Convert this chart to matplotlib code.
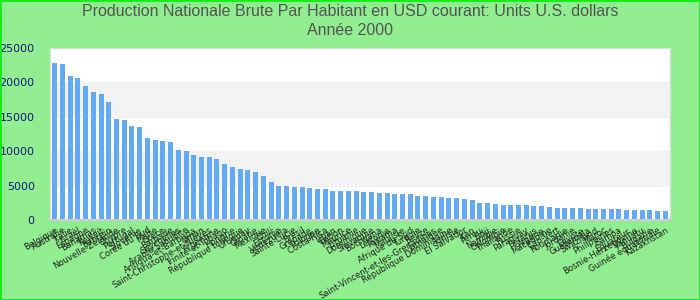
import matplotlib
matplotlib.use('Agg')
import matplotlib.pyplot as plt
from matplotlib.patches import Rectangle

pays = ['Belgique', 'Australie', 'Italie', 'Israël', 'Espagne', 'Bahamas', 'Koweït', 'Bahreïn',
        'Nouvelle-Zélande', 'Chypre', 'Portugal', 'Slovénie', 'Corée du Sud', 'Malte', 'Grèce',
        'Barbade', 'Seychelles', 'Arabie Saoudite', 'Antigua-et-Barbuda', 'Oman',
        'Saint-Christophe-et-Niévès', 'Argentine', 'Trinité-et-Tobago', 'Hongrie',
        'République tchèque', 'Uruguay', 'Croatie', 'Mexique', 'Chili', 'Estonie', 'Venezuela',
        'Sainte-Lucie', 'Brésil', 'Grenade', 'Pologne', 'Costa Rica', 'Liban', 'Gabon', 'Maurice',
        'Lituanie', 'Dominique', 'Slovaquie', 'Botswana', 'Lettonie', 'Panama', 'Malaisie',
        'Afrique du Sud', 'Turquie', 'Belize', 'Saint-Vincent-et-les-Grenadines', 'Jamaïque',
        'République Dominicaine', 'Tunisie', 'El Salvador', 'Iran', 'Pérou', 'Fidji', 'Namibie',
        'Colombie', 'Thaïlande', 'Russie', 'Paraguay', 'Belarus', 'Algérie', 'Macédoine',
        'Cap-Vert', 'Roumanie', 'Jordanie', 'Égypte', 'Guatemala', 'Swaziland', 'Maroc',
        'Philippines', 'Samoa', 'Équateur', 'Bosnie-Herzégovine', 'Vanuatu', 'Bulgarie',
        'Guinée équatoriale', 'Kazakhstan']

pnb = [22770, 22630, 20880, 20580, 19420, 18540, 18250, 17080, 14740, 14600,
       13720, 13580, 11970, 11680, 11530, 11390, 10220, 10070, 9490, 9200,
       9200, 8900, 8180, 7740, 7450, 7300, 7010, 6420, 5550, 4960,
       4960, 4820, 4820, 4670, 4530, 4530, 4230, 4230, 4230, 4230,
       4090, 4090, 3940, 3940, 3800, 3800, 3800, 3500, 3500, 3360,
       3360, 3210, 3210, 3070, 2920, 2480, 2480, 2340, 2190, 2190,
       2190, 2190, 2040, 2040, 1900, 1750, 1750, 1750, 1750, 1610,
       1610, 1610, 1610, 1610, 1460, 1460, 1460, 1460, 1310, 1310]

yticks = [0, 5000, 10000, 15000, 20000, 25000]

plt.rcParams['font.family'] = ['Liberation Sans', 'DejaVu Sans']

fig = plt.figure(figsize=(7, 3), dpi=100, facecolor='#90ee90')
fig.patches.append(Rectangle((0, 0), 1, 1, transform=fig.transFigure, fill=False,
                             edgecolor='#11ee11', linewidth=2))
ax = fig.add_axes([50/700, 80/300, 620/700, 172/300])
ax.set_facecolor('white')

# alternating bands
ax.axhspan(5000, 10000, color='#f2f2f2', zorder=0)
ax.axhspan(15000, 20000, color='#f2f2f2', zorder=0)

x = list(range(len(pays)))
ax.bar(x, pnb, width=0.65, color='#64a9f3', zorder=2)

ax.set_xlim(-0.6, len(pays) - 0.4)
ax.set_ylim(0, 25000)
ax.set_yticks(yticks)
ax.set_yticklabels([str(v) for v in yticks], color='#1a1a80', fontsize=8, family='DejaVu Sans')
ax.set_xticks(x)
ax.set_xticklabels(pays, rotation=30, ha='right', rotation_mode='anchor', fontsize=6,
                   color='#222222', family='DejaVu Sans')
ax.tick_params(axis='y', length=0, pad=11)
ax.tick_params(axis='x', length=0, pad=4)

for s in ax.spines.values():
    s.set_color('#dddddd')
    s.set_linewidth(1)
ax.spines['bottom'].set_color('#cccccc')
ax.spines['bottom'].set_linewidth(1.5)

fig.suptitle('Production Nationale Brute Par Habitant en USD courant: Units U.S. dollars\nAnnée 2000',
             color='#555555', fontsize=11.5, y=0.985, linespacing=1.3)

fig.savefig('out.png', dpi=100, facecolor=fig.get_facecolor())
